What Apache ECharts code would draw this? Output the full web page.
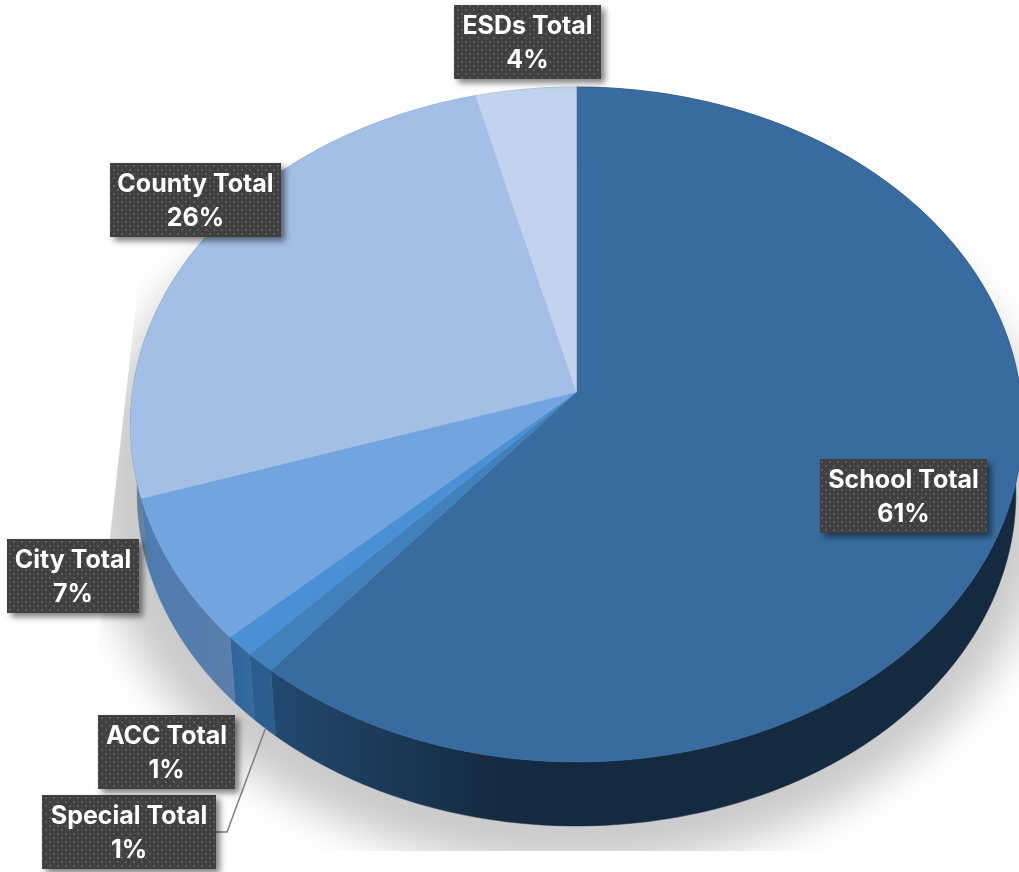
<!DOCTYPE html>
<html>
<head>
<meta charset="utf-8">
<style>html,body{margin:0;padding:0;background:#fff}#chart{width:1019px;height:872px}</style>
<script src="https://cdn.jsdelivr.net/npm/echarts@6/dist/echarts.min.js"></script>
</head>
<body>
<div id="chart"></div>
<script>
// Clockwise from twelve o'clock
const categories = ['School Total', 'Special Total', 'ACC Total', 'City Total', 'County Total', 'ESDs Total'];
const shares = [61, 1, 1, 7, 26, 4];

const topColors = ['#386ca0', '#4280bc', '#4a90d4', '#72a5e0', '#a3bfe6', '#c3d3ef'];
const sideColors = [
  ['#234a72', '#152a40'],
  ['#2b5d8e', '#2b5d8e'],
  ['#346a9e', '#2f6498'],
  ['#5a7fac', '#4d7cb0'],
  ['#62809f', '#62809f'],
  ['#7d8fa8', '#7d8fa8']
];
// Label plates: left, top, right, bottom
const plates = [
  [820, 459, 987, 533],
  [42, 795, 216, 869],
  [98, 715, 235, 789],
  [7, 539, 139, 613],
  [110, 163, 281, 237],
  [454, 5, 601, 79]
];
const leaderPath = [[216, 832], [227, 832], [266, 727]];

// Tilted view of the polar plane: a circle becomes a perspective ellipse around the apex
const apex = [576.5, 392];
const polarRadius = 400;
const tilt = -0.0963, scaleX = 444, scaleY = 334.4;
const floorScale = 0.985, floorDrop = 69.5;

function toTop(p) {
  const u = (p[0] - apex[0]) / polarRadius, v = (p[1] - apex[1]) / polarRadius;
  const d = 1 + tilt * v;
  return [apex[0] + scaleX * u / d, apex[1] + scaleY * v / d];
}
function toFloor(p) {
  const t = toTop(p);
  return [apex[0] + (t[0] - apex[0]) * floorScale, apex[1] + (t[1] - apex[1]) * floorScale + floorDrop];
}
function rim(api, from, to, project) {
  const steps = Math.max(2, Math.ceil((to - from) * 3));
  const pts = [];
  for (let i = 0; i <= steps; i++) {
    pts.push(project(api.coord([1, from + (to - from) * i / steps])));
  }
  return pts;
}

// Running totals give each slice its start and end on the angle axis
let running = 0;
const sliceData = shares.map((s, i) => {
  const row = [1, running, running + s, i];
  running += s;
  return row;
});

// Dotted plate texture
const dots = document.createElement('canvas');
dots.width = dots.height = 8;
const ctx = dots.getContext('2d');
ctx.fillStyle = '#404040';
ctx.fillRect(0, 0, 8, 8);
ctx.fillStyle = '#5c5c5c';
ctx.fillRect(1, 1, 2, 2);
ctx.fillRect(5, 5, 2, 2);

// Soft cast shadow: the floor outline pushed outward, with the blur on a copy thrown far off-canvas
function renderShadow(params, api) {
  if (params.dataIndex !== 0) return null;
  const throwX = 3000;
  const pts = rim(api, 0, 100, p => {
    const f = toFloor(p);
    const cx = apex[0], cy = apex[1] + 32 + floorDrop;
    const dx = f[0] - cx, dy = f[1] - cy, len = Math.hypot(dx, dy);
    return [cx + dx * (len + 38) / len - 6 - throwX, cy + dy * (len + 38) / len + 4];
  });
  return {
    type: 'polygon',
    shape: { points: pts },
    style: { fill: '#cbcbcb', shadowBlur: 42, shadowOffsetX: throwX, shadowColor: '#cbcbcb' }
  };
}

// White masks give the shadow its hard lower and left limits
function renderMasks(params, api) {
  if (params.dataIndex !== 0) return null;
  return {
    type: 'group',
    children: [
      { type: 'rect', shape: { x: 0, y: 851, width: 1019, height: 21 }, style: { fill: '#fff' } },
      { type: 'polygon', shape: { points: [[0, 0], [142, 0], [142, 250], [75, 851], [0, 851]] }, style: { fill: '#fff' } }
    ]
  };
}

function renderSide(params, api) {
  const from = api.value(1), to = api.value(2), i = api.value(3);
  const upper = rim(api, from, to, toTop);
  const lower = rim(api, from, to, toFloor);
  const xs = upper.map(p => p[0]);
  const fill = i === 0
    ? { type: 'linear', x: 265, y: 0, x2: 500, y2: 0, global: true,
        colorStops: [{ offset: 0, color: sideColors[0][0] }, { offset: 1, color: sideColors[0][1] }] }
    : { type: 'linear', x: Math.min(...xs), y: 0, x2: Math.max(...xs), y2: 0, global: true,
        colorStops: [{ offset: 0, color: sideColors[i][1] }, { offset: 1, color: sideColors[i][0] }] };
  return {
    type: 'polygon',
    shape: { points: upper.concat(lower.reverse()) },
    style: { fill, stroke: fill, lineWidth: 0.5 }
  };
}

function renderTop(params, api) {
  const from = api.value(1), to = api.value(2), i = api.value(3);
  const centre = toTop(api.coord([0, from]));
  const pts = [centre].concat(rim(api, from, to, toTop));
  return {
    type: 'polygon',
    shape: { points: pts },
    style: { fill: topColors[i], stroke: topColors[i], lineWidth: 0.4 }
  };
}

function renderLabel(params, api) {
  const i = api.value(3);
  const [l, t, r, b] = plates[i];
  const font = 'bold 25px Inter';
  const children = [
    {
      type: 'rect',
      shape: { x: l, y: t, width: r - l, height: b - t },
      style: { fill: { image: dots, repeat: 'repeat' }, shadowBlur: 6, shadowOffsetX: 4, shadowOffsetY: 4, shadowColor: 'rgba(0,0,0,0.5)' }
    },
    {
      type: 'text',
      style: { x: (l + r) / 2, y: t + 21.5, text: categories[i], fill: '#fff', align: 'center', verticalAlign: 'middle', font }
    },
    {
      type: 'text',
      style: { x: (l + r) / 2, y: t + 55, text: shares[i] + '%', fill: '#fff', align: 'center', verticalAlign: 'middle', font }
    }
  ];
  if (categories[i] === 'Special Total') {
    children.unshift({
      type: 'polyline',
      shape: { points: leaderPath },
      style: { stroke: '#7f7f7f', lineWidth: 1.5, fill: null }
    });
  }
  return { type: 'group', children };
}

const base = { type: 'custom', coordinateSystem: 'polar', silent: true, animation: false, data: sliceData, clip: false };

const chart = echarts.init(document.getElementById('chart'), null, { renderer: 'canvas' });
chart.setOption({
  animation: false,
  backgroundColor: '#fff',
  polar: { center: apex, radius: polarRadius },
  angleAxis: { type: 'value', min: 0, max: 100, startAngle: 90, clockwise: true, show: false },
  radiusAxis: { type: 'value', min: 0, max: 1, show: false },
  series: [
    { ...base, z: 1, renderItem: renderShadow },
    { ...base, z: 2, renderItem: renderMasks },
    { ...base, z: 3, renderItem: renderSide },
    { ...base, z: 4, renderItem: renderTop },
    { ...base, z: 5, renderItem: renderLabel }
  ]
});
</script>
</body>
</html>
